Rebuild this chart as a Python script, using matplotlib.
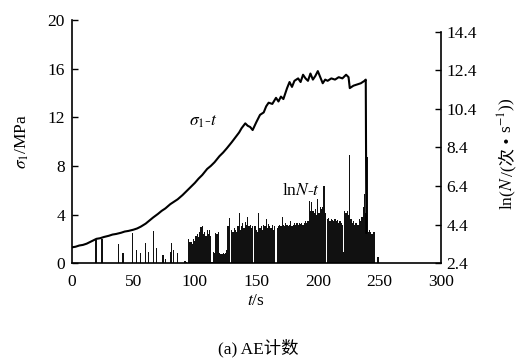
import numpy as np
import matplotlib
matplotlib.use('Agg')
import matplotlib.pyplot as plt

plt.rcParams['font.family'] = ['Liberation Serif', 'Noto Sans CJK SC', 'DejaVu Sans']
plt.rcParams['mathtext.fontset'] = 'stix'
plt.rcParams['font.size'] = 12.5

# stress curve sigma_1 - t
stress_t = [0, 3, 6, 9, 12, 15, 18, 20, 23, 26, 30, 33, 36, 40, 43, 46, 50, 53, 56, 60,
            63, 66, 70, 73, 76, 80, 83, 86, 90, 93, 96, 100, 103, 106, 110, 113, 116, 120,
            123, 126, 130, 133, 136, 138, 141, 143, 145, 147, 150, 153, 156, 158, 160, 163,
            166, 168, 170, 172, 175, 177, 179, 181, 184, 186, 188, 190, 192, 194, 196, 198,
            200, 202, 204, 206, 208, 211, 214, 217, 220, 223, 225, 226, 229, 232, 235, 238, 239, 239.5]
stress_v = [1.3, 1.35, 1.45, 1.5, 1.6, 1.75, 1.9, 2.0, 2.05, 2.15, 2.25, 2.35, 2.4, 2.5, 2.6, 2.65, 2.75, 2.85, 3.0, 3.25,
            3.5, 3.75, 4.05, 4.3, 4.5, 4.85, 5.05, 5.25, 5.6, 5.9, 6.2, 6.6, 6.95, 7.25, 7.75, 8.0, 8.3, 8.8,
            9.1, 9.45, 9.95, 10.35, 10.75, 11.1, 11.5, 11.3, 11.2, 10.95, 11.6, 12.2, 12.4, 12.9, 13.2, 13.1,
            13.6, 13.3, 13.7, 13.5, 14.4, 14.9, 14.5, 15.0, 15.2, 14.9, 15.5, 15.2, 15.0, 15.6, 15.1, 15.4,
            15.8, 15.3, 14.8, 15.1, 15.0, 15.2, 15.1, 15.3, 15.2, 15.5, 15.3, 14.4, 14.6, 14.7, 14.8, 15.0, 15.1, 2.5]

# lnN - t bars
ae_t_sparse = [19, 20, 24.5, 38, 41.5, 49.5, 52.5, 56, 60, 62, 66.5, 69, 74, 76, 80, 81, 82.5, 86, 92, 93]
ae_v_sparse = [3.65, 3.6, 3.65, 3.4, 2.9, 3.97, 3.1, 2.9, 3.45, 3.0, 4.07, 3.2, 2.8, 2.6, 3.0, 3.45, 3.1, 2.95, 2.5, 2.45]

ae_t_dense = list(range(95, 247)) + [249]
ae_v_dense = [3.67, 3.5, 3.5, 3.4, 3.63, 3.55, 3.8, 3.9, 3.75, 4.0,   # 95-104
              4.25, 4.3, 3.9, 4.0, 3.8, 4.1, 3.9, 4.1, 3.8, 2.45,    # 105-114
              3.0, 2.9, 3.95, 3.9, 4.0, 2.9, 2.85, 2.85, 2.9, 2.85,  # 115-124
              2.9, 3.1, 4.3, 4.76, 2.4, 4.1, 4.0, 4.2, 4.1, 4.0,     # 125-134
              4.3, 5.0, 4.1, 4.3, 4.5, 4.2, 4.55, 4.4, 4.8, 4.3,     # 135-144
              4.4, 4.2, 4.3, 2.4, 4.3, 4.1, 4.0, 5.0, 4.2, 4.3,      # 145-154
              4.1, 4.4, 4.3, 4.7, 4.2, 4.45, 4.3, 4.2, 4.4, 4.1,     # 155-164
              4.3, 2.4, 4.2, 4.3, 4.4, 4.3, 4.8, 4.4, 4.3, 4.5,      # 165-174
              4.4, 4.3, 4.4, 4.6, 4.3, 4.4, 4.5, 4.4, 4.5, 4.4,      # 175-184
              4.5, 4.45, 4.5, 4.4, 4.5, 4.6, 4.5, 4.6, 5.6, 5.1,     # 185-194
              5.55, 5.1, 5.0, 5.2, 4.9, 5.75, 5.0, 5.3, 5.2, 5.3,    # 195-204
              6.4, 5.0, 2.4, 4.7, 4.76, 4.6, 4.7, 4.65, 4.6, 4.7,    # 205-214
              4.6, 4.65, 4.5, 4.6, 4.5, 4.4, 3.0, 5.1, 5.0, 5.1,     # 215-224
              4.9, 8.0, 4.7, 4.5, 4.6, 4.4, 4.5, 4.4, 4.4, 4.7,      # 225-234
              4.6, 4.8, 5.3, 6.0, 5.0, 7.9, 4.0, 4.1, 4.0, 3.9,      # 235-244
              4.0, 4.0,                                              # 245-246
              2.7]                                                   # 249

ae_t = ae_t_sparse + ae_t_dense
ae_v = ae_v_sparse + ae_v_dense

fig = plt.figure(figsize=(5.21, 3.58), dpi=100)
ax = fig.add_axes([0.138, 0.265, 0.708, 0.679])
ax2 = ax.twinx()

# bars first (behind the stress curve)
ax2.bar(ae_t, np.array(ae_v) - 2.4, bottom=2.4, width=1.0, color='#111111', linewidth=0)
ax2.set_ylim(2.4, 15.0)
ax2.set_yticks([2.4, 4.4, 6.4, 8.4, 10.4, 12.4, 14.4])
ax2.set_yticklabels(['2.4', '4.4', '6.4', '8.4', '10.4', '12.4', '14.4'])
ax2.spines['right'].set_bounds(2.4, 14.4)
ax2.spines['top'].set_visible(False)
ax2.spines['left'].set_visible(False)
ax2.spines['bottom'].set_visible(False)
ax2.tick_params(axis='y', direction='in', length=4, width=1, pad=4)

ax.set_zorder(ax2.get_zorder() + 1)
ax.patch.set_visible(False)
ax.plot(stress_t, stress_v, color='black', linewidth=1.5)
ax.set_xlim(0, 300)
ax.set_ylim(0, 20)
ax.set_xticks([0, 50, 100, 150, 200, 250, 300])
ax.set_yticks([0, 4, 8, 12, 16, 20])
ax.spines['top'].set_visible(False)
ax.spines['right'].set_visible(False)
ax.tick_params(axis='y', direction='in', length=4, width=1, pad=5)
ax.tick_params(axis='x', direction='in', length=0, pad=8)
for s in ['left', 'bottom']:
    ax.spines[s].set_linewidth(1.2)
ax2.spines['right'].set_linewidth(1.2)
ax.set_xlabel(r'$t$/s', labelpad=2)
ax.set_ylabel(r'$\sigma_1$/MPa', labelpad=12)

ax.text(106.5, 11.6, r'$\sigma_1$-$t$', ha='center', va='center')
ax.text(186, 5.9, r'ln$N$-$t$', ha='center', va='center')

# right axis label, built from pieces so the CJK glyph uses a font that has it
renderer = fig.canvas.get_renderer()
W, H = fig.get_size_inches() * fig.dpi
pieces = [r'ln($N$', '/(次 • ', r's$^{-1}$))']
lx = 512
texts = []
lengths = []
for p in pieces:
    t = fig.text(0, 0, p, rotation=90, rotation_mode='anchor', ha='left', va='baseline')
    lengths.append(t.get_window_extent(renderer).height)
    texts.append(t)
y0 = 210 - 0  # bottom of label in pixels from top
ycur = (358 - 210)
for t, L in zip(texts, lengths):
    t.set_position((lx / W, ycur / H))
    ycur += L

fig.text(0.495, 0.028, '(a) AE计数', ha='center', va='center')

fig.savefig('out.png', dpi=100)
